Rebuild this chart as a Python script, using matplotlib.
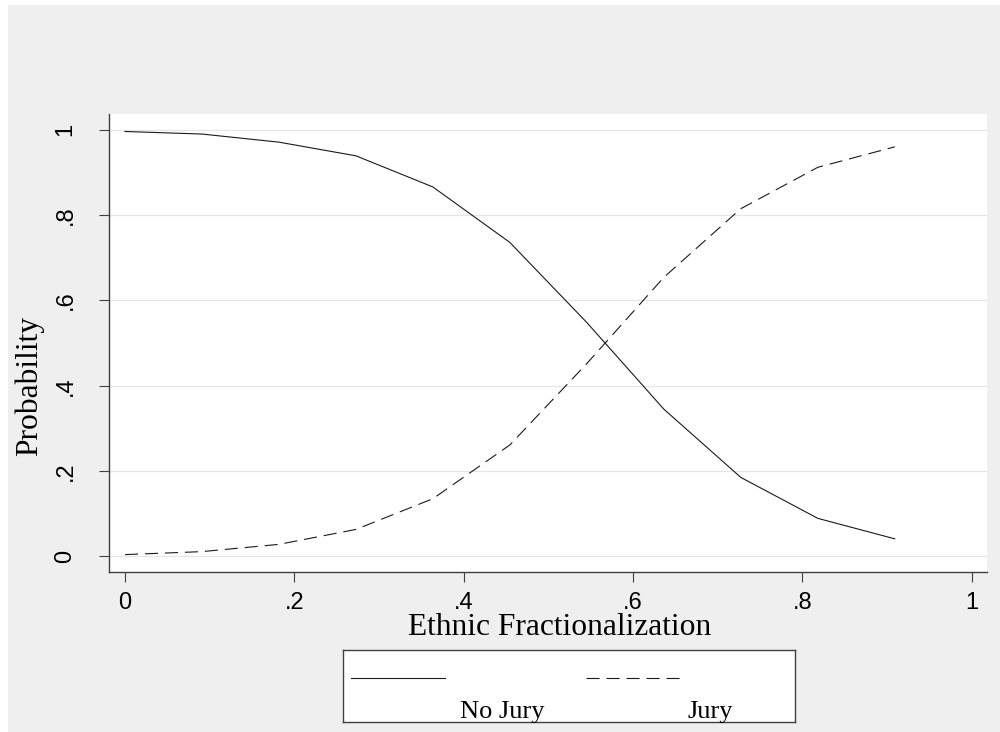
import matplotlib
matplotlib.use('Agg')
import matplotlib.pyplot as plt
from matplotlib.patches import Rectangle

# predicted probabilities by ethnic fractionalization
frac = [0.0, 0.0909, 0.1818, 0.2727, 0.3636, 0.4545, 0.5455, 0.6364, 0.7273, 0.8182, 0.9091]
no_jury = [0.996, 0.990, 0.971, 0.939, 0.866, 0.736, 0.548, 0.345, 0.185, 0.089, 0.041]
jury = [0.004, 0.011, 0.028, 0.063, 0.135, 0.261, 0.452, 0.654, 0.815, 0.912, 0.960]

xticks = [0, 0.2, 0.4, 0.6, 0.8, 1]
xtick_labels = ['0', '.2', '.4', '.6', '.8', '1']
yticks = [0, 0.2, 0.4, 0.6, 0.8, 1]
ytick_labels = ['0', '.2', '.4', '.6', '.8', '1']

plt.rcParams['lines.scale_dashes'] = False
SERIF = 'Liberation Serif'
SANS = 'Liberation Sans'
BG = '#efefef'
INK = '#1a1a1a'
AXC = '#404040'
DASH = (0, (9.4, 5.0))

fig = plt.figure(figsize=(10, 7.32), dpi=100)
fig.patch.set_facecolor('white')
fig.patches.append(Rectangle((8 / 1000, 0), 1, 1 - 5 / 732, transform=fig.transFigure,
                             facecolor=BG, edgecolor='none', zorder=-10))

# plot region in pixels: x 109.3..987.3, y 114..572.3
ax = fig.add_axes([109.3 / 1000, 1 - 572.3 / 732, 878 / 1000, 458.3 / 732])
ax.set_facecolor('white')

ax.plot(frac, no_jury, color=INK, lw=0.8, ls='-')
ax.plot(frac, jury, color=INK, lw=0.8, ls=DASH)

ax.set_xlim(-0.0185, 1.0184)
ax.set_ylim(-0.0375, 1.037)

ax.set_xticks(xticks)
ax.set_xticklabels(xtick_labels, fontfamily=SANS, fontsize=17)
ax.set_yticks(yticks)
ax.set_yticklabels(ytick_labels, fontfamily=SANS, fontsize=17, rotation=90, va='center')
ax.tick_params(axis='x', length=7.2, width=0.8, color=AXC, pad=7, labelcolor='black')
ax.tick_params(axis='y', length=7.2, width=0.8, color=AXC, pad=16.5, labelcolor='black')

ax.grid(axis='y', color='#e6e6e6', lw=0.9)
ax.set_axisbelow(True)
for side in ['top', 'right']:
    ax.spines[side].set_visible(False)
for side in ['left', 'bottom']:
    ax.spines[side].set_color(AXC)
    ax.spines[side].set_linewidth(1.0)

ax.set_xlabel('Ethnic Fractionalization', fontfamily=SERIF, fontsize=22.7)
ax.xaxis.set_label_coords(0.513, -0.0888)
ax.set_ylabel('Probability', fontfamily=SERIF, fontsize=22.7)
ax.yaxis.set_label_coords(-0.0744, 0.4065)

# legend box drawn by hand: keys on top row, labels under them
lg = fig.add_axes([342.7 / 1000, 1 - 722.3 / 732, 452.6 / 1000, 72.3 / 732])
lg.set_xlim(0, 1)
lg.set_ylim(0, 1)
lg.set_xticks([])
lg.set_yticks([])
lg.set_facecolor('white')
for s in lg.spines.values():
    s.set_color(AXC)
    s.set_linewidth(1.0)
lg.plot([0.0177, 0.226], [0.617, 0.617], color=INK, lw=0.8, ls='-')
lg.plot([0.5376, 0.7468], [0.617, 0.617], color=INK, lw=0.8, ls=DASH)
lg.text(0.4448, 0.0636, 'No Jury', ha='right', va='baseline', fontfamily=SERIF, fontsize=19)
lg.text(0.863, 0.0636, 'Jury', ha='right', va='baseline', fontfamily=SERIF, fontsize=19)

fig.savefig('out.png', dpi=100, facecolor=fig.get_facecolor())
